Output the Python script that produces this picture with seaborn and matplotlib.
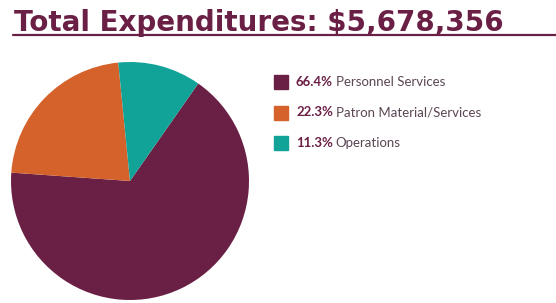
import matplotlib.pyplot as plt
import seaborn as sns
from matplotlib.patches import Rectangle

sns.set_style('white')
plt.rcParams['font.family'] = ['Lato', 'DejaVu Sans']

# %%
categories = ['Personnel Services', 'Patron Material/Services', 'Operations']
shares = [66.4, 22.3, 11.3]
colors = ['#6a1f45', '#d4622a', '#12a398']
title = 'Total Expenditures: $5,678,356'
maroon = '#6a1f45'

fig = plt.figure(figsize=(5.56, 3.03), dpi=100)

# pie, centre ~ (130, 181) px, radius ~119 px
ax = fig.add_axes([11 / 556, 3 / 303, 238 / 556, 238 / 303])
ax.pie(shares, colors=colors, startangle=55, counterclock=False,
       wedgeprops={'linewidth': 0})
ax.set_xlim(-1, 1)
ax.set_ylim(-1, 1)
ax.set_aspect('equal')
ax.axis('off')

# title + underline
fig.text(14 / 556, 1 - 31 / 303, title, fontsize=20, fontweight='bold',
         family='DejaVu Sans', color=maroon, va='baseline', ha='left')
fig.add_artist(plt.Line2D([13 / 556, 1], [1 - 34.5 / 303] * 2, color=maroon, lw=1.6))

# legend
for i, (cat, pct, col) in enumerate(zip(categories, shares, colors)):
    ytop = 75 + i * 30.5
    fig.add_artist(Rectangle((274 / 556, 1 - (ytop + 14) / 303), 14 / 556, 14 / 303,
                             transform=fig.transFigure, color=col))
    t = fig.text(296 / 556, 1 - (ytop + 7) / 303, f'{pct}%', fontsize=9.5,
                 fontweight='bold', color=maroon, va='center', ha='left')
    fig.canvas.draw()
    bb = t.get_window_extent()
    fig.text((bb.x1 + 3) / 556, 1 - (ytop + 7) / 303, cat, fontsize=9.5,
             color='#5b4654', va='center', ha='left')

plt.savefig('out.png', dpi=100)
